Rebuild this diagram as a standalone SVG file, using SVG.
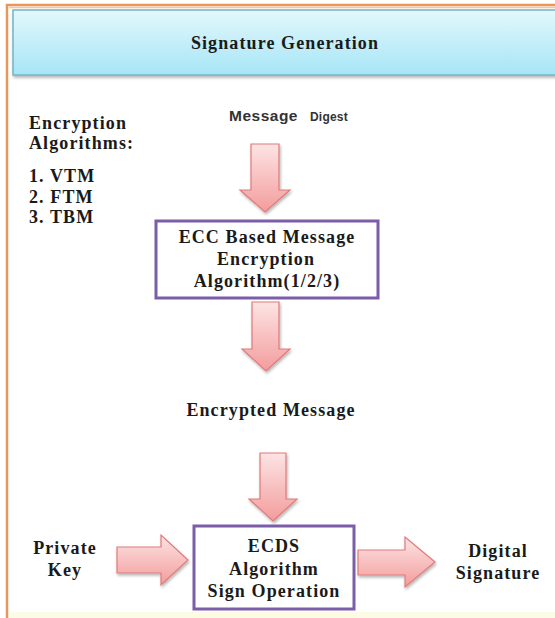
<svg xmlns="http://www.w3.org/2000/svg" width="555" height="618" viewBox="0 0 555 618">
<defs>
<linearGradient id="hdr" x1="0" y1="0" x2="0" y2="1">
<stop offset="0" stop-color="#e3f8fc"/>
<stop offset="1" stop-color="#a6e5f6"/>
</linearGradient>
<linearGradient id="pink" x1="0" y1="0" x2="0" y2="1">
<stop offset="0" stop-color="#fde4e4"/>
<stop offset="1" stop-color="#f39c9c"/>
</linearGradient>
<filter id="sh" x="-10%" y="-10%" width="130%" height="130%">
<feGaussianBlur in="SourceAlpha" stdDeviation="1.5"/>
<feOffset dx="1" dy="2" result="b"/>
<feComponentTransfer><feFuncA type="linear" slope="0.3"/></feComponentTransfer>
<feMerge><feMergeNode/><feMergeNode in="SourceGraphic"/></feMerge>
</filter>
</defs>
<style>
.t{font-family:"Liberation Serif","Times New Roman",serif;font-weight:bold;font-size:18px;fill:#1a1a1a;letter-spacing:1.1px}
.s{font-family:"Liberation Sans",Arial,sans-serif;font-weight:bold;fill:#333}
.box{fill:#fff;stroke:#7b5ea7;stroke-width:3}
.arr{fill:url(#pink);stroke:#e07a7a;stroke-width:1.2;filter:url(#sh)}
</style>
<rect width="555" height="618" fill="#fff"/>
<!-- outer frame -->
<rect x="7" y="5" width="560" height="620" fill="none" stroke="#e8975a" stroke-width="2.5"/>
<line x1="9" y1="7.5" x2="555" y2="7.5" stroke="#f6c79c" stroke-width="1.5"/>
<rect x="10" y="612" width="545" height="6" fill="#fcfbe6"/>
<g id="header">
<rect x="13" y="10" width="560" height="65" fill="url(#hdr)" stroke="#74b4c4" stroke-width="1.5" filter="url(#sh)"/>
<text class="t" x="285" y="49" text-anchor="middle" font-size="17" letter-spacing="1.7">Signature Generation</text>
</g>
<g id="algorithms">
<text class="t" x="29" y="129">Encryption</text>
<text class="t" x="29" y="149">Algorithms:</text>
<text class="t" x="29" y="182">1. VTM</text>
<text class="t" x="29" y="203">2. FTM</text>
<text class="t" x="29" y="223">3. TBM</text>
</g>
<g id="message">
<text class="s" x="229" y="121" font-size="15.5" letter-spacing="0.5">Message</text>
<text class="s" x="310" y="121" font-size="12" letter-spacing="0.2" fill="#111">Digest</text>
</g>
<g id="ecc">
<rect class="box" x="156" y="221" width="222" height="77"/>
<text class="t" x="267" y="243" text-anchor="middle" letter-spacing="1.2">ECC Based Message</text>
<text class="t" x="266" y="265" text-anchor="middle">Encryption</text>
<text class="t" x="267" y="287" text-anchor="middle">Algorithm(1/2/3)</text>
</g>
<g id="encrypted">
<text class="t" x="271" y="416" text-anchor="middle">Encrypted Message</text>
</g>
<g id="ecds">
<rect class="box" x="194" y="526" width="160" height="83"/>
<text class="t" x="274" y="552" text-anchor="middle">ECDS</text>
<text class="t" x="274" y="575" text-anchor="middle">Algorithm</text>
<text class="t" x="274" y="597" text-anchor="middle">Sign Operation</text>
</g>
<g id="privatekey">
<text class="t" x="65" y="554" text-anchor="middle">Private</text>
<text class="t" x="65" y="576" text-anchor="middle">Key</text>
</g>
<g id="signature">
<text class="t" x="498" y="557" text-anchor="middle">Digital</text>
<text class="t" x="498" y="579" text-anchor="middle">Signature</text>
</g>
<g id="connectors">
<path class="arr" d="M251,144 H279 V190 H290 L265,212 L240,190 H251 Z"/>
<path class="arr" d="M252,302 H279 V349 H290 L266,371 L242,349 H252 Z"/>
<path class="arr" d="M260,453 H286 V499 H297 L273,521 L249,499 H260 Z"/>
<path class="arr" d="M117,547 H161 V535 L188,560 L161,585 V573 H117 Z"/>
<path class="arr" d="M358,550 H405 V537 L435,562 L405,587 V575 H358 Z"/>
</g>
</svg>
